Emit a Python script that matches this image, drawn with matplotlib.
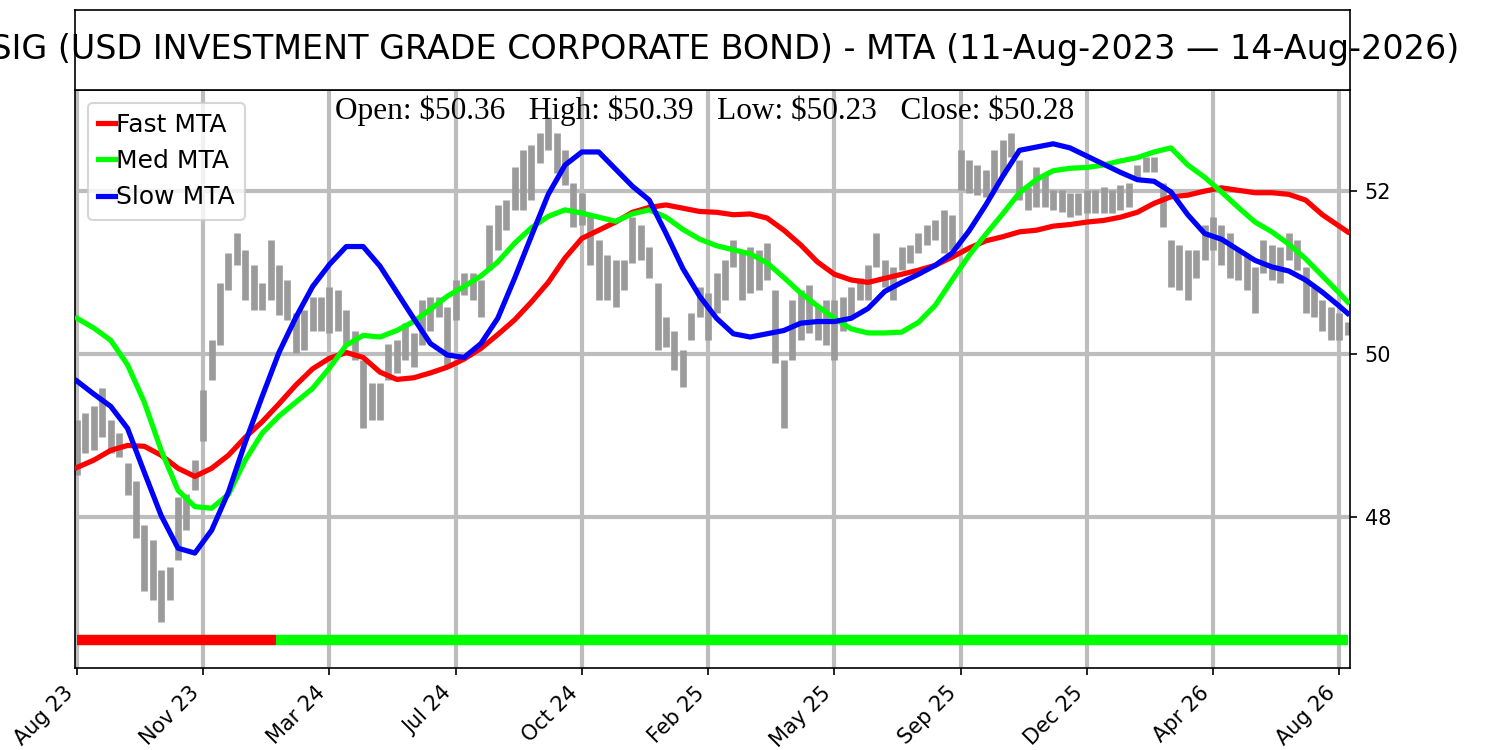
import matplotlib.pyplot as plt
import numpy as np

title = "USIG (USD INVESTMENT GRADE CORPORATE BOND) - MTA (11-Aug-2023 \u2014 14-Aug-2026)"
last_open, last_high, last_low, last_close = 50.36, 50.39, 50.23, 50.28

tick_labels = ['Aug 23', 'Nov 23', 'Mar 24', 'Jul 24', 'Oct 24', 'Feb 25',
               'May 25', 'Sep 25', 'Dec 25', 'Apr 26', 'Aug 26']
bars_per_tick = 75
n_bars = 756

# weekly high / low envelope (every 5 trading days)
bar_idx = np.arange(0, n_bars, 5)
bar_high = [49.19, 49.28, 49.37, 49.58, 49.19, 49.03, 48.66, 48.45, 47.90, 47.72,
            47.35, 47.39, 48.25, 48.29, 48.70, 49.56, 50.17, 50.87, 51.24, 51.48,
            51.28, 51.09, 50.87, 51.40, 51.09, 50.91, 50.50, 50.54, 50.70, 50.70,
            50.82, 50.79, 50.54, 50.29, 49.93, 49.64, 49.64, 50.13, 50.17, 50.38,
            50.26, 50.66, 50.70, 50.70, 50.58, 50.91, 50.99, 50.99, 50.91, 51.58,
            51.83, 51.89, 52.29, 52.50, 52.56, 52.71, 52.91, 52.71, 52.50, 52.10,
            51.98, 51.71, 51.40, 51.21, 51.15, 51.15, 51.68, 51.58, 51.31, 50.87,
            50.45, 50.29, 50.05, 50.50, 50.82, 50.75, 50.99, 51.15, 51.40, 51.28,
            51.31, 51.28, 51.36, 50.79, 49.93, 50.66, 50.79, 50.85, 50.58, 50.66,
            50.66, 50.70, 50.82, 50.94, 51.09, 51.48, 51.15, 51.07, 51.31, 51.34,
            51.48, 51.58, 51.64, 51.77, 51.71, 52.50, 52.38, 52.32, 52.26, 52.50,
            52.63, 52.71, 52.38, 52.05, 52.29, 52.20, 52.01, 52.01, 51.98, 51.98,
            52.01, 52.01, 52.05, 52.01, 52.07, 52.10, 52.32, 52.42, 52.42, 52.10,
            51.40, 51.34, 51.28, 51.28, 51.58, 51.68, 51.58, 51.48, 51.28, 51.21,
            51.07, 51.40, 51.34, 51.31, 51.48, 51.40, 51.07, 50.82, 50.66, 50.58,
            50.50, 50.39]
bar_low = [48.52, 48.79, 48.82, 48.98, 48.79, 48.74, 48.27, 47.75, 47.10, 46.98,
           46.71, 46.98, 47.47, 47.84, 48.33, 48.94, 49.68, 50.11, 50.79, 51.09,
           50.66, 50.54, 50.54, 50.66, 50.48, 50.42, 50.01, 50.05, 50.29, 50.29,
           50.26, 50.29, 50.11, 49.93, 49.10, 49.19, 49.19, 49.68, 49.77, 49.93,
           49.84, 50.11, 50.29, 50.45, 49.84, 50.42, 50.72, 50.66, 50.45, 51.03,
           51.28, 51.52, 51.77, 51.77, 51.89, 52.34, 52.50, 52.22, 52.07, 51.56,
           51.58, 51.09, 50.66, 50.66, 50.58, 50.79, 51.12, 51.15, 50.94, 50.05,
           50.09, 49.80, 49.60, 50.17, 50.45, 50.17, 50.50, 50.66, 51.07, 50.66,
           50.75, 50.79, 50.91, 49.89, 49.10, 49.93, 50.17, 50.26, 50.17, 50.11,
           49.93, 50.29, 50.45, 50.66, 50.66, 51.07, 50.82, 50.66, 51.03, 51.12,
           51.24, 51.34, 51.40, 51.24, 51.28, 52.01, 51.98, 51.95, 51.93, 52.01,
           52.20, 52.42, 51.89, 51.77, 51.80, 51.80, 51.77, 51.74, 51.68, 51.71,
           51.73, 51.73, 51.73, 51.73, 51.77, 51.80, 52.14, 52.23, 52.23, 51.56,
           50.82, 50.79, 50.66, 50.94, 51.15, 51.28, 51.09, 50.94, 50.91, 50.79,
           50.50, 50.99, 50.91, 50.87, 51.15, 51.03, 50.50, 50.45, 50.29, 50.17,
           50.17, 50.23]

# MTA lines, every 10 bars plus the last bar
mta_idx = list(range(0, 751, 10)) + [755]
fast_mta = [48.61, 48.70, 48.82, 48.88, 48.87, 48.76, 48.60, 48.50, 48.60, 48.76,
            48.98, 49.17, 49.39, 49.62, 49.82, 49.95, 50.02, 49.96, 49.78, 49.69,
            49.71, 49.77, 49.84, 49.94, 50.07, 50.24, 50.42, 50.64, 50.88, 51.18,
            51.42, 51.52, 51.62, 51.74, 51.80, 51.83, 51.79, 51.75, 51.74, 51.71,
            51.72, 51.67, 51.52, 51.34, 51.13, 50.98, 50.91, 50.88, 50.93, 50.98,
            51.03, 51.09, 51.19, 51.30, 51.39, 51.44, 51.50, 51.52, 51.57, 51.59,
            51.62, 51.64, 51.68, 51.74, 51.85, 51.93, 51.95, 52.00, 52.04, 52.01,
            51.98, 51.98, 51.96, 51.89, 51.71, 51.57, 51.50]
med_mta = [50.44, 50.32, 50.17, 49.87, 49.41, 48.82, 48.33, 48.13, 48.11, 48.28,
           48.70, 49.03, 49.24, 49.41, 49.58, 49.83, 50.11, 50.23, 50.21, 50.29,
           50.40, 50.55, 50.71, 50.83, 50.96, 51.13, 51.36, 51.55, 51.69, 51.77,
           51.73, 51.68, 51.63, 51.72, 51.77, 51.68, 51.53, 51.41, 51.33, 51.28,
           51.23, 51.12, 50.94, 50.75, 50.59, 50.44, 50.31, 50.26, 50.26, 50.27,
           50.39, 50.60, 50.91, 51.21, 51.47, 51.72, 51.98, 52.14, 52.25, 52.28,
           52.29, 52.32, 52.37, 52.41, 52.48, 52.53, 52.32, 52.17, 51.99, 51.80,
           51.62, 51.50, 51.35, 51.17, 50.96, 50.75, 50.64]
slow_mta = [49.67, 49.51, 49.36, 49.09, 48.55, 48.02, 47.62, 47.56, 47.84, 48.31,
            48.92, 49.48, 50.02, 50.45, 50.83, 51.10, 51.32, 51.32, 51.08, 50.76,
            50.44, 50.13, 49.99, 49.96, 50.13, 50.44, 50.93, 51.45, 51.96, 52.32,
            52.48, 52.48, 52.27, 52.06, 51.89, 51.48, 51.05, 50.71, 50.44, 50.25,
            50.21, 50.25, 50.29, 50.38, 50.40, 50.40, 50.44, 50.56, 50.77, 50.88,
            50.98, 51.09, 51.24, 51.51, 51.83, 52.18, 52.50, 52.54, 52.58, 52.53,
            52.43, 52.33, 52.23, 52.14, 52.12, 51.99, 51.71, 51.48, 51.41, 51.28,
            51.15, 51.07, 51.02, 50.91, 50.76, 50.59, 50.50]

# trend strip at the bottom: -1 bearish, +1 bullish
trend_start = [0, 118]
trend_end = [118, 755]
trend_state = [-1, 1]
trend_level = 46.49

fig = plt.figure(figsize=(10, 5), dpi=150)
ax = fig.add_axes([0.05, 0.1093, 0.85, 0.7707])
tax = fig.add_axes([0.05, 0.88, 0.85, 0.1067])

tax.set_xticks([])
tax.set_yticks([])
tax.text(0.5, 0.5, title, ha='center', va='center', fontsize=16,
         transform=tax.transAxes, clip_on=False)

ax.vlines(bar_idx, bar_low, bar_high, color='#9b9b9b', lw=3.2, zorder=2)
ax.plot(mta_idx, fast_mta, color='red', lw=2.5, label='Fast MTA', zorder=3)
ax.plot(mta_idx, med_mta, color='lime', lw=2.5, label='Med MTA', zorder=3)
ax.plot(mta_idx, slow_mta, color='blue', lw=2.5, label='Slow MTA', zorder=3)

for s, e, st in zip(trend_start, trend_end, trend_state):
    ax.plot([s, e], [trend_level, trend_level], color='lime' if st > 0 else 'red',
            lw=5, solid_capstyle='butt', zorder=3)

ohlc = (f"Open: \\${last_open:.2f}   High: \\${last_high:.2f}   "
        f"Low: \\${last_low:.2f}   Close: \\${last_close:.2f}")
ax.text(0.4935, 0.99, ohlc, transform=ax.transAxes, ha='center', va='top',
        fontsize=15, family='Liberation Serif')

ax.set_xlim(-1.2, 756.4)
ax.set_ylim(46.15, 53.24)
ax.set_xticks(np.arange(len(tick_labels)) * bars_per_tick)
ax.set_xticklabels(tick_labels, rotation=45, ha='right')
ax.yaxis.tick_right()
ax.set_yticks([48, 50, 52])
ax.grid(True, color='#bdbdbd', lw=2)
ax.set_axisbelow(True)

ax.legend(loc='upper left', fontsize=12, handlelength=0.7, handletextpad=0.05)

fig.savefig('out.png', dpi=150)
